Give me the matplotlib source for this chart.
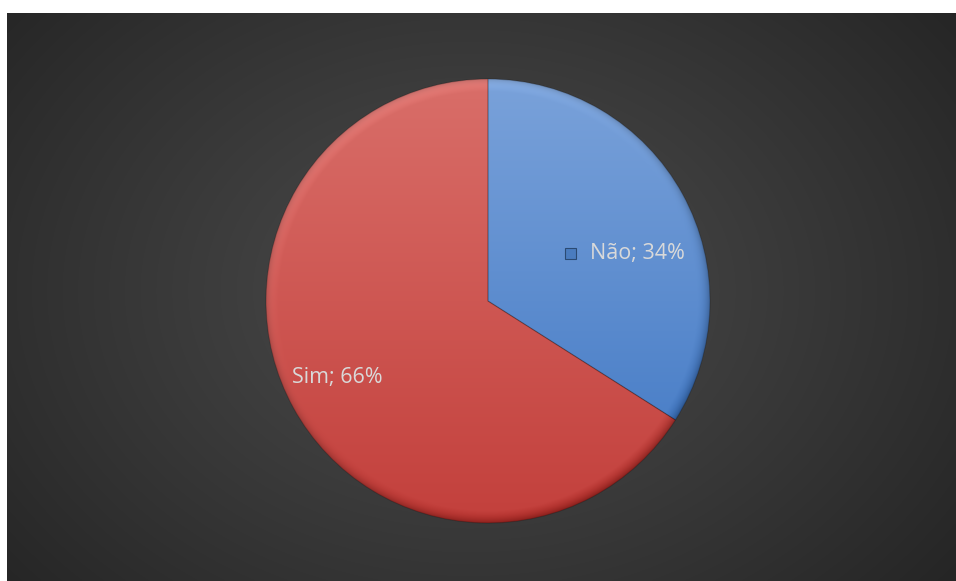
import matplotlib.pyplot as plt
import numpy as np
from matplotlib.patches import Rectangle
from matplotlib.colors import to_rgb

# slice data
labels = ['Não', 'Sim']
values = [34, 66]

# colours (top of gradient, bottom of gradient)
tops = ['#7aa2da', '#d96e69']
bottoms = ['#3e76c3', '#c3403c']
text_color = '#d9d9d9'

W, H = 956, 581
fig = plt.figure(figsize=(W / 100, H / 100), dpi=100)
fig.patch.set_facecolor('white')
ax = fig.add_axes([0, 0, 1, 1])
ax.set_xlim(0, W)
ax.set_ylim(0, H)
ax.axis('off')

# dark radial background of the chart area
x0, x1, y0, y1 = 7, 956, 0, 568
gx, gy = np.meshgrid(np.linspace(x0, x1, 400), np.linspace(y0, y1, 300))
d = np.sqrt(((gx - 470) / 620) ** 2 + ((gy - 290) / 470) ** 2)
d = np.clip(d, 0, 1)
c_in, c_out = 0x4b / 255, 0x25 / 255
bg = c_in + (c_out - c_in) * d ** 1.1
ax.imshow(np.dstack([bg, bg, bg]), extent=[x0, x1, y0, y1], origin='lower',
          interpolation='bilinear', zorder=0, aspect='auto')

cx, cy, R = 488, 280, 222
wedges, _ = ax.pie(values, startangle=90, counterclock=False,
                   center=(cx, cy), radius=R, frame=True,
                   wedgeprops=dict(edgecolor='#00000030', linewidth=0.8))
ax.set_xlim(0, W)
ax.set_ylim(0, H)
ax.axis('off')

# shaded fill for each wedge: vertical gradient plus a bevel at the rim
px, py = np.meshgrid(np.linspace(cx - R, cx + R, 500), np.linspace(cy - R, cy + R, 500))
rr = np.sqrt((px - cx) ** 2 + (py - cy) ** 2)
t = (py - (cy - R)) / (2 * R)  # 0 at bottom, 1 at top
rim = np.clip((rr - (R - 12)) / 12, 0, 1)
ang = np.arctan2(py - cy, px - cx)
for w, top, bot in zip(wedges, tops, bottoms):
    top_c, bot_c = np.array(to_rgb(top)), np.array(to_rgb(bot))
    img = bot_c + (top_c - bot_c) * t[..., None]
    # bevel: brighter toward upper-left rim, darker toward lower-right rim
    light = np.cos(ang - np.deg2rad(120))
    img = img + (0.10 * light * rim)[..., None]
    img = img * (1 - 0.18 * rim ** 3)[..., None]
    img = np.clip(img, 0, 1)
    im = ax.imshow(img, extent=[cx - R, cx + R, cy - R, cy + R], origin='lower',
                   interpolation='bilinear', zorder=2, aspect='auto')
    im.set_clip_path(w)
    w.set_facecolor('none')
    w.set_zorder(3)

# data labels
label_pos = [(0.66, 19.0), (0.76, 207.0)]
for i, (lab, val) in enumerate(zip(labels, values)):
    f, a = label_pos[i]
    tx = cx + f * R * np.cos(np.deg2rad(a))
    ty = cy + f * R * np.sin(np.deg2rad(a))
    txt = f'{lab}; {val}%'
    if i == 0:
        # legend key square before the label
        ax.add_patch(Rectangle((tx - 62, ty - 6), 11, 11, facecolor='#4a7cbf',
                               edgecolor='#2b4a73', linewidth=0.8, zorder=5))
        ax.text(tx - 37, ty, txt, color=text_color, fontsize=15.5,
                family='Open Sans', ha='left', va='center', zorder=6)
    else:
        ax.text(tx, ty, txt, color=text_color, fontsize=15.5,
                family='Open Sans', ha='center', va='center', zorder=6)

fig.savefig('out.png', dpi=100, facecolor='white')
